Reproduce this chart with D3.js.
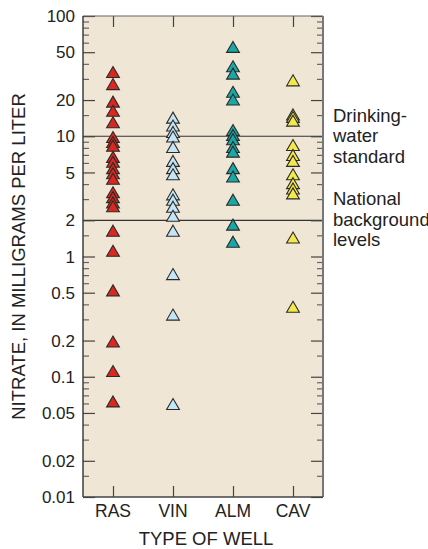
<!DOCTYPE html>
<html>
<head>
<meta charset="utf-8">
<script src="https://cdn.jsdelivr.net/npm/d3@7"></script>
<style>
  html, body { margin: 0; padding: 0; background: #fff; }
  svg { display: block; }
  text { font-family: "Liberation Sans", Arial, Helvetica, sans-serif; fill: #222; }
</style>
</head>
<body>
<svg id="chart" width="428" height="549"></svg>
<script>
// ---- data ----
const categories = ["RAS", "VIN", "ALM", "CAV"];
const rasValues = [34, 27, 19.3, 16.2, 13, 9.8, 8.9, 8.3, 6.7, 6.1, 5.4, 4.9, 4.4, 3.4, 3.1, 2.8, 2.6, 1.63, 1.11, 0.52, 0.195, 0.111, 0.062];
const vinValues = [14.2, 12.2, 10.8, 9.9, 8.1, 6.2, 5.4, 4.8, 3.27, 2.95, 2.58, 2.17, 1.63, 0.71, 0.327, 0.059];
const almValues = [55, 38, 33, 23.3, 20.1, 11.2, 10.2, 9.4, 8.1, 7.4, 5.4, 4.6, 2.95, 1.83, 1.32];
const cavValues = [29, 15.1, 14.4, 13.4, 8.4, 6.95, 6.2, 4.8, 4.05, 3.66, 3.33, 1.43, 0.38];
const seriesColors = ["#d8281f", "#c4e5f6", "#18a8a5", "#f3e84c"];
const majorTicks = [100, 50, 20, 10, 5, 2, 1, 0.5, 0.2, 0.1, 0.05, 0.02, 0.01];
const tickLabels = ["100", "50", "20", "10", "5", "2", "1", "0.5", "0.2", "0.1", "0.05", "0.02", "0.01"];
const minorMultipliers = [1.5, 3, 4, 6, 7, 8, 9];
const referenceLines = [10, 2];
const annotations = [["Drinking-", "water", "standard"], ["National", "background", "levels"]];

const seriesValues = [rasValues, vinValues, almValues, cavValues];

// ---- layout ----
const svg = d3.select("#chart");
const L = 83, R = 323, T = 16, B = 497;

const y = d3.scaleLog().domain([0.01, 100]).range([B, T]);
const x = d3.scalePoint().domain(categories).range([L, R]).padding(0.5);

// minor ticks
const minorTicks = [];
[0.01, 0.1, 1, 10].forEach(d => minorMultipliers.forEach(m => minorTicks.push(+(d * m).toPrecision(3))));

// background
svg.append("rect").attr("x", L).attr("y", T).attr("width", R - L).attr("height", B - T)
  .attr("fill", "#efe6d5");

// reference lines
svg.selectAll("line.ref").data(referenceLines).enter().append("line")
  .attr("x1", L).attr("x2", R).attr("y1", d => y(d)).attr("y2", d => y(d))
  .attr("stroke", "#333").attr("stroke-width", 1.2);

// left axis
const leftAxis = d3.axisRight(y).tickValues(majorTicks).tickSize(12).tickFormat("");
const gl = svg.append("g").attr("transform", `translate(${L},0)`).call(leftAxis);
const leftMinor = d3.axisRight(y).tickValues(minorTicks).tickSize(6).tickFormat("");
const glm = svg.append("g").attr("transform", `translate(${L},0)`).call(leftMinor);

// right axis
const rightAxis = d3.axisLeft(y).tickValues(majorTicks).tickSize(12).tickFormat("");
const gr = svg.append("g").attr("transform", `translate(${R},0)`).call(rightAxis);
const rightMinor = d3.axisLeft(y).tickValues(minorTicks).tickSize(6).tickFormat("");
const grm = svg.append("g").attr("transform", `translate(${R},0)`).call(rightMinor);

// top & bottom category ticks
const topAxis = d3.axisBottom(x).tickSize(11).tickFormat("");
const gt = svg.append("g").attr("transform", `translate(0,${T})`).call(topAxis);
const bottomAxis = d3.axisTop(x).tickSize(11).tickFormat("");
const gb = svg.append("g").attr("transform", `translate(0,${B})`).call(bottomAxis);

[gl, glm, gr, grm, gt, gb].forEach(g => {
  g.select(".domain").remove();
  g.selectAll(".tick line").attr("stroke", "#444").attr("stroke-width", 1.2);
});
[glm, grm].forEach(g => g.selectAll(".tick line").attr("stroke", "#666"));

// frame
svg.append("line").attr("x1", L).attr("x2", R).attr("y1", T).attr("y2", T).attr("stroke", "#666").attr("stroke-width", 1.2);
svg.append("line").attr("x1", R).attr("x2", R).attr("y1", T).attr("y2", B).attr("stroke", "#777").attr("stroke-width", 2);
svg.append("line").attr("x1", L).attr("x2", L).attr("y1", T).attr("y2", B).attr("stroke", "#333").attr("stroke-width", 1.4);
svg.append("line").attr("x1", L).attr("x2", R).attr("y1", B).attr("y2", B).attr("stroke", "#444").attr("stroke-width", 1.4);

// tick labels
svg.selectAll("text.ytick").data(majorTicks).enter().append("text")
  .attr("x", L - 8).attr("y", d => y(d)).attr("dy", "0.36em")
  .attr("text-anchor", "end").attr("font-size", 17)
  .text((d, i) => tickLabels[i]);

// category labels
svg.selectAll("text.xcat").data(categories).enter().append("text")
  .attr("x", d => x(d)).attr("y", 517).attr("text-anchor", "middle").attr("font-size", 17.5)
  .text(d => d);

// axis titles
svg.append("text").attr("x", 206).attr("y", 545).attr("text-anchor", "middle").attr("font-size", 18.5)
  .text("TYPE OF WELL");
svg.append("text").attr("transform", `translate(25,${(T + B) / 2}) rotate(-90)`)
  .attr("text-anchor", "middle").attr("font-size", 18.5)
  .text("NITRATE, IN MILLIGRAMS PER LITER");

// annotations
const annoY = [121.5, 205];
annotations.forEach((lines, k) => {
  lines.forEach((t, j) => {
    svg.append("text").attr("x", 333).attr("y", annoY[k] + j * 20.5)
      .attr("font-size", 18.5).text(t);
  });
});

// points (triangles)
const tri = "M0,-5.8L6.4,5.2L-6.4,5.2Z";
categories.forEach((c, i) => {
  svg.append("g").selectAll("path").data(seriesValues[i]).enter().append("path")
    .attr("d", tri)
    .attr("transform", d => `translate(${x(c)},${y(d)})`)
    .attr("fill", seriesColors[i])
    .attr("stroke", "#2a2a2a").attr("stroke-width", 1.1)
    .attr("stroke-linejoin", "miter");
});
</script>
</body>
</html>
